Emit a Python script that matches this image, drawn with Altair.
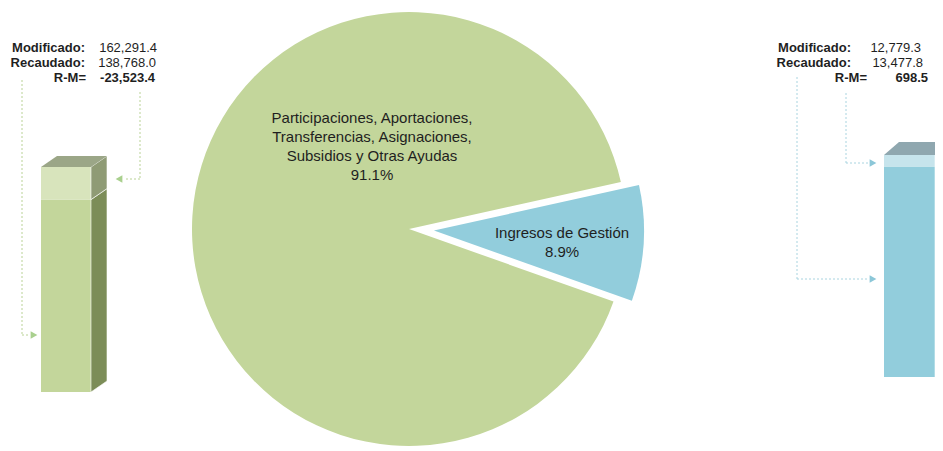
import math
import altair as alt
import pandas as pd

# ---------------- data ----------------
categories = [
    "Participaciones, Aportaciones, Transferencias, Asignaciones, Subsidios y Otras Ayudas",
    "Ingresos de Gestión",
]
label_lines = [
    ["Participaciones, Aportaciones,", "Transferencias, Asignaciones,", "Subsidios y Otras Ayudas"],
    ["Ingresos de Gestión"],
]
shares = [91.1, 8.9]
modificado = [162291.4, 12779.3]
recaudado = [138768.0, 13477.8]
row_labels = ["Modificado:", "Recaudado:", "R-M="]

# ---------------- style ----------------
W, H = 927, 443
OFF = 8  # page margin: reference pixel -> chart pixel
FONT = "Liberation Sans"
TXT = "#1f1f1f"

def cx(v):
    return v - OFF

def cy(v):
    return v - OFF

PIE_COLORS = ["#c3d69b", "#92cddc"]
PIE_CX, PIE_CY, PIE_R = 409, 229, 217
START_DEG = 77.5
EXPLODE = 25

bar_styles = [
    dict(x0=41, x1=91, dx=16, dy=11, top=167, bottom=392,
         front="#c3d69b", band="#d8e4bc", side="#7c8d58", side_band="#8f9b75", topface="#9ba687",
         line="#b9d296", arrow="#a9d08e"),
    dict(x0=884, x1=935, dx=15, dy=13, top=155, bottom=377,
         front="#92cddc", band="#c6e4ec", side="#5d8a95", side_band="#7b9ea8", topface="#8fa7af",
         line="#a9d4e0", arrow="#8cc7d8"),
]

text_pos = [
    dict(lab_x=[85, 85, 86], val_x=[157, 156, 155], rows=[48, 63, 78]),
    dict(lab_x=[851, 851, 867], val_x=[921, 923, 928], rows=[48, 63, 78]),
]

connectors = [
    # (vertical x, y from, y to, horizontal end x, arrow shape, arrow x)
    [(140, 92, 179, 124, "triangle-left", 119), (22, 80, 335, 30, "triangle-right", 34)],
    [(846, 93, 163, 868, "triangle-right", 873), (797, 77, 279, 868, "triangle-right", 873)],
]

one = pd.DataFrame({"a": [0]})
layers = []

# ---------------- pie ----------------
pie = pd.DataFrame({
    "cat": categories,
    "share": shares,
    "label": ["\n".join(l + [f"{s:.1f}%"]) for l, s in zip(label_lines, shares)],
})
pie = pie.iloc[[1, 0]].reset_index(drop=True)
pie["end"] = pie["share"].cumsum()
pie["start"] = pie["end"] - pie["share"]

a0 = math.radians(START_DEG)
theta_scale = alt.Scale(domain=[0, 100], range=[a0, a0 + 2 * math.pi])
mid = a0 + 2 * math.pi * (shares[1] / 2) / 100
ex = EXPLODE * math.sin(mid)
ey = -EXPLODE * math.cos(mid)

layers.append(
    alt.Chart(pie).transform_filter(alt.datum.cat == categories[0])
    .mark_arc(color=PIE_COLORS[0], outerRadius=PIE_R)
    .encode(theta=alt.Theta("start:Q", scale=theta_scale, stack=None), theta2="end:Q",
            x=alt.value(cx(PIE_CX)), y=alt.value(cy(PIE_CY)))
)
layers.append(
    alt.Chart(pie).transform_filter(alt.datum.cat == categories[1])
    .mark_arc(color=PIE_COLORS[1], outerRadius=PIE_R - 7)
    .encode(theta=alt.Theta("start:Q", scale=theta_scale, stack=None), theta2="end:Q",
            x=alt.value(cx(PIE_CX + ex)), y=alt.value(cy(PIE_CY + ey)))
)
pie_label_pos = [(372, 111), (562, 226)]
for cat, (lx, ly) in zip(categories, pie_label_pos):
    layers.append(
        alt.Chart(pie).transform_filter(alt.datum.cat == cat)
        .mark_text(font=FONT, fontSize=15, color=TXT, align="center", baseline="top",
                   lineBreak="\n", lineHeight=19)
        .encode(text="label:N", x=alt.value(cx(lx)), y=alt.value(cy(ly)))
    )

# ---------------- 3D bars ----------------
for i, st in enumerate(bar_styles):
    mod, rec = modificado[i], recaudado[i]
    vmax, vmin = max(mod, rec), min(mod, rec)
    yscale = alt.Scale(domain=[0, vmax], range=[cy(st["bottom"]), cy(st["top"])])
    u = vmax / (st["bottom"] - st["top"])
    d = st["dy"] * u
    x0, x1, dx = cx(st["x0"]), cx(st["x1"]), st["dx"]

    segs = pd.DataFrame({"seg": ["base", "band"], "lo": [0, vmin], "hi": [vmin, vmax]})
    for seg, col in [("base", st["front"]), ("band", st["band"])]:
        layers.append(
            alt.Chart(segs).transform_filter(alt.datum.seg == seg)
            .mark_rect(color=col)
            .encode(x=alt.value(x0), x2=alt.value(x1),
                    y=alt.Y("hi:Q", scale=yscale, axis=None), y2="lo:Q")
        )
    # side faces
    for lo, hi, col in [(0, vmin, st["side"]), (vmin, vmax, st["side_band"])]:
        side = pd.DataFrame({"x": [x1, x1 + dx], "y": [hi, hi + d], "y2": [lo, lo + d]})
        layers.append(
            alt.Chart(side).mark_area(color=col, orient="vertical", stroke="#ffffff", strokeWidth=0.6)
            .encode(x=alt.X("x:Q", scale=None, axis=None),
                    y=alt.Y("y:Q", scale=yscale, axis=None), y2="y2:Q")
        )
    # top face
    topf = pd.DataFrame({
        "x": [x0, x0 + dx, x1, x1 + dx],
        "y": [vmax, vmax + d, vmax + d, vmax + d],
        "y2": [vmax, vmax, vmax, vmax + d],
    })
    layers.append(
        alt.Chart(topf).mark_area(color=st["topface"], orient="vertical")
        .encode(x=alt.X("x:Q", scale=None, axis=None),
                y=alt.Y("y:Q", scale=yscale, axis=None), y2="y2:Q")
    )

    # connectors and arrows
    for vx, yf, yt, hx, shape, ax in connectors[i]:
        layers.append(
            alt.Chart(one).mark_rule(color=st["line"], strokeDash=[2, 2], strokeWidth=1)
            .encode(x=alt.value(cx(vx)), x2=alt.value(cx(vx)), y=alt.value(cy(yf)), y2=alt.value(cy(yt)))
        )
        layers.append(
            alt.Chart(one).mark_rule(color=st["line"], strokeDash=[2, 2], strokeWidth=1)
            .encode(x=alt.value(cx(vx)), x2=alt.value(cx(hx)), y=alt.value(cy(yt)), y2=alt.value(cy(yt)))
        )
        layers.append(
            alt.Chart(one).mark_point(shape=shape, filled=True, size=60, color=st["arrow"], opacity=1)
            .encode(x=alt.value(cx(ax)), y=alt.value(cy(yt)))
        )

    # annotation text
    values = [f"{mod:,.1f}", f"{rec:,.1f}", f"{rec - mod:,.1f}"]
    tp = text_pos[i]
    for r in range(3):
        tdf = pd.DataFrame({"lab": [row_labels[r]], "val": [values[r]]})
        layers.append(
            alt.Chart(tdf).mark_text(font=FONT, fontSize=13, fontWeight="bold", color=TXT,
                                     align="right", baseline="middle")
            .encode(text="lab:N", x=alt.value(cx(tp["lab_x"][r])), y=alt.value(cy(tp["rows"][r])))
        )
        layers.append(
            alt.Chart(tdf).mark_text(font=FONT, fontSize=13, fontWeight="bold" if r == 2 else "normal",
                                     color=TXT, align="right", baseline="middle")
            .encode(text="val:N", x=alt.value(cx(tp["val_x"][r])), y=alt.value(cy(tp["rows"][r])))
        )

chart = (
    alt.layer(*layers)
    .resolve_scale(x="independent", y="independent")
    .properties(width=W, height=H, padding=0, autosize=alt.AutoSizeParams(type="none"),
                background="white")
    .configure_view(stroke=None)
)

chart.save("out.html", embed_options={"renderer": "svg", "actions": False})
